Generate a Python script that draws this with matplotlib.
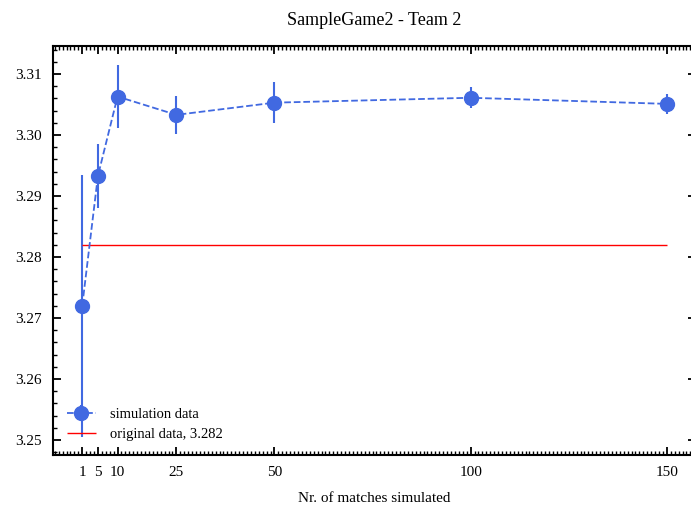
import matplotlib
matplotlib.use("Agg")
import matplotlib.pyplot as plt
from matplotlib.ticker import MultipleLocator, FormatStrFormatter

n_matches = [1, 5, 10, 25, 50, 100, 150]
sim_mean = [3.2720, 3.2933, 3.3063, 3.3033, 3.3053, 3.3061, 3.3051]
sim_err = [0.0215, 0.0052, 0.0052, 0.0031, 0.0034, 0.0017, 0.0017]
original_value = 3.282
x_ticks = [1, 5, 10, 25, 50, 100, 150]

plt.rcParams["font.family"] = ["Liberation Serif", "DejaVu Serif"]

fig = plt.figure(figsize=(6.91, 5.07), dpi=100)
ax = fig.add_axes([0.0767, 0.1026, 0.9306, 0.8067])

sim = ax.errorbar(
    n_matches,
    sim_mean,
    yerr=sim_err,
    color="royalblue",
    linestyle="--",
    linewidth=1.3,
    marker="o",
    markersize=10,
    elinewidth=1.5,
    capsize=0,
    label="simulation data",
)
orig = ax.hlines(
    original_value,
    n_matches[0],
    n_matches[-1],
    color="red",
    linewidth=1.0,
    label=f"original data, {original_value}",
)

ax.set_xlim(-6.45, 157.45)
ax.set_ylim(3.24754, 3.31459)
ax.set_xticks(x_ticks)
ax.xaxis.set_minor_locator(MultipleLocator(1))
ax.yaxis.set_major_locator(MultipleLocator(0.01))
ax.yaxis.set_minor_locator(MultipleLocator(0.002))
ax.yaxis.set_major_formatter(FormatStrFormatter("%.2f"))

ax.tick_params(which="both", direction="in", top=True, right=True, labelsize=11)
ax.tick_params(which="major", length=6, width=1.3, pad=8)
ax.tick_params(which="minor", length=3, width=1.0)
for spine in ax.spines.values():
    spine.set_linewidth(1.5)

ax.set_title("SampleGame2 - Team 2", fontsize=13, pad=15)
ax.set_xlabel("Nr. of matches simulated", fontsize=11, labelpad=9)

ax.legend(
    [sim, orig],
    ["simulation data", f"original data, {original_value}"],
    loc="lower left",
    frameon=False,
    fontsize=10.5,
    borderaxespad=0.55,
    handletextpad=0.95,
)

fig.savefig("out.png", dpi=100)
